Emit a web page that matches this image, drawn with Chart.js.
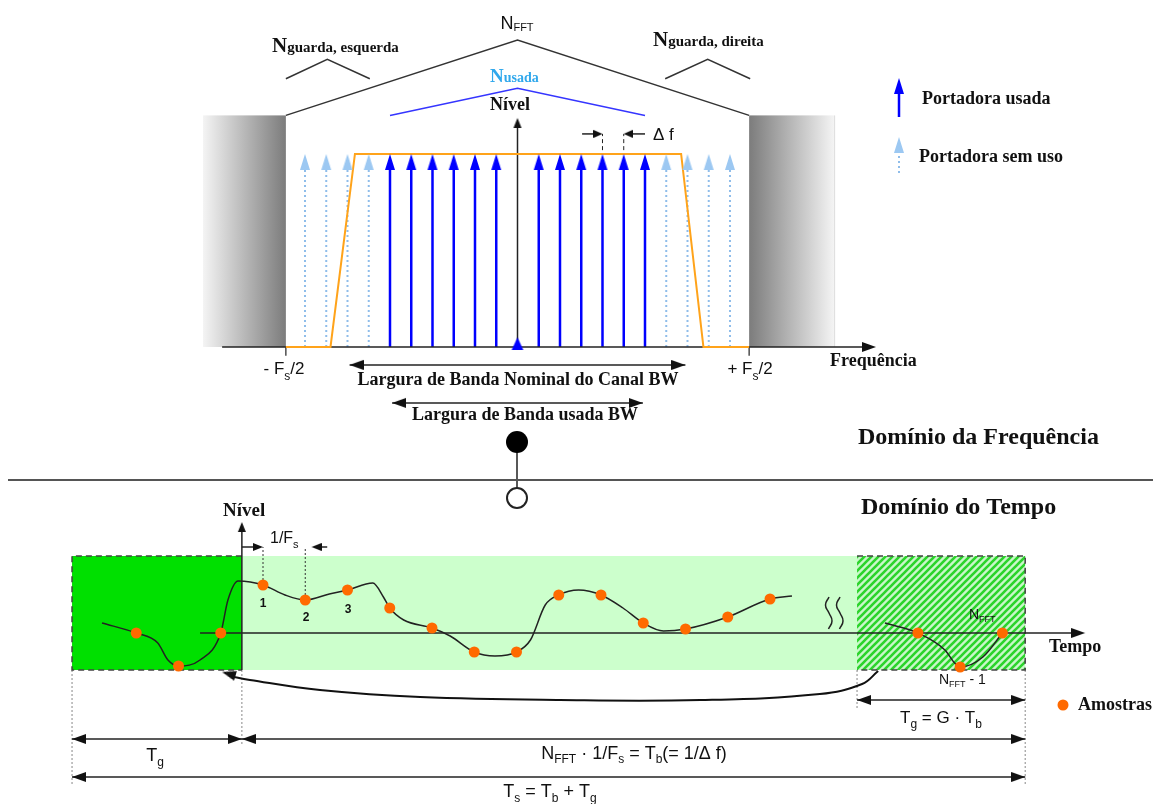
<!DOCTYPE html>
<html lang="pt">
<head>
<meta charset="utf-8">
<title>OFDM - Domínio da Frequência e do Tempo</title>
<script src="https://cdn.jsdelivr.net/npm/chart.js@4.4.0/dist/chart.umd.min.js"></script>
<style>
    html, body { margin: 0; padding: 0; background: #ffffff; }
    canvas { display: block; }
</style>
</head>
<body>
<canvas id="ofdmChart" width="1160" height="804"></canvas>
<script>
// ========================================
// DADOS - DOMÍNIO DA FREQUÊNCIA
// (índice de subportadora / nível normalizado)
// ========================================
const carrierIdx   = [-10, -9, -8, -7, -6, -5, -4, -3, -2, -1, 0, 1, 2, 3, 4, 5, 6, 7, 8, 9, 10];
const carrierUse   = ['livre', 'livre', 'livre', 'livre', 'usada', 'usada', 'usada', 'usada', 'usada', 'usada', 'dc',
                      'usada', 'usada', 'usada', 'usada', 'usada', 'usada', 'livre', 'livre', 'livre', 'livre'];
const carrierLevel = [1, 1, 1, 1, 1, 1, 1, 1, 1, 1, 0.05, 1, 1, 1, 1, 1, 1, 1, 1, 1, 1];

const maskIdx   = [-10.9, -8.8, -7.65, 7.7, 8.75, 10.9];
const maskLevel = [0, 0, 1, 1, 0, 0];

const fftRoofIdx     = [-10.9, 0, 10.9];
const fftRoofLevel   = [1.2, 1.59, 1.2];
const usedRoofIdx    = [-6, 0, 6];
const usedRoofLevel  = [1.2, 1.34, 1.2];
const guardLRoofIdx  = [-10.9, -8.95, -6.95];
const guardRRoofIdx  = [6.95, 8.95, 10.95];
const guardRoofLevel = [1.39, 1.49, 1.39];

const fsHalf       = 10.9;          // ± Fs/2
const guardBandL   = [-14.8, -10.9];
const guardBandR   = [10.9, 14.9];
const guardTop     = 1.2;
const bandNominal  = [-7.9, 7.9];
const bandUsed     = [-5.9, 5.9];
const deltaF       = [4, 5];

// ========================================
// DADOS - DOMÍNIO DO TEMPO
// (índice de amostra / nível)
// ========================================
const guardN     = [-2, -1, 0];
const guardLevel = [0, -3.3, 0];
const symN       = [1, 2, 3, 4, 5, 6, 7, 8, 9, 10, 11, 12, 13];
const symLevel   = [4.8, 3.3, 4.3, 2.5, 0.5, -1.9, -1.9, 3.8, 3.8, 1.0, 0.4, 1.6, 3.4];
const tailN      = [16.5, 17.5, 18.5];
const tailLevel  = [0, -3.4, 0];

const waveT = [-2.81, -2, -1.49, -1.25, -1, -0.49, 0, 0.17, 0.41, 1, 1.52, 2, 2.57, 3, 3.6, 3.85, 4, 4.33,
               5, 5.43, 6, 6.49, 7, 7.33, 7.68, 8, 8.47, 9, 9.52, 10, 10.48, 11, 12, 13, 13.52];
const waveL = [1.0, 0, -1.0, -2.7, -3.3, -2.7, 0, 3.3, 5.2, 4.8, 3.8, 3.3, 3.9, 4.3, 5.0, 3.6, 2.5, 1.3,
               0.5, -0.3, -1.9, -2.3, -1.9, -0.7, 2.8, 3.8, 4.3, 3.8, 2.5, 1.0, 0.2, 0.4, 1.6, 3.4, 3.7];
const tailWaveT = [15.72, 16.5, 17.14, 17.37, 17.5, 18.04, 18.5];
const tailWaveL = [1.0, 0, -1.7, -3.0, -3.4, -2.4, 0];

const arcT = [15.56, 15.18, 14.18, 11.35, 8.03, 4.72, 2.35, 0.69, 0.2];
const arcL = [-3.8, -5.1, -6.1, -6.7, -6.7, -6.4, -5.7, -4.7, -4.3];

const symbolEdges = [-3.52, 0.5, 15.06, 19.04];   // início Ts, início Tb, cópia Tg, fim Ts
const boxLevel    = [7.7, -3.7];

// ========================================
// ESTILO
// ========================================
const SERIF_B = s => `bold ${s}px "Liberation Serif", "DejaVu Serif", serif`;
const SANS    = s => `${s}px "Liberation Sans", Arial, sans-serif`;
const SANS_B  = s => `bold ${s}px "Liberation Sans", Arial, sans-serif`;

const AX_F  = ['xf', 'yf'];
const AX_T  = ['xt', 'yt'];
const AX_TP = ['xt', 'y'];
const AX_P  = ['x', 'y'];

function headImg(color, len, half) {
    const c = document.createElement('canvas');
    c.width = len * 2;
    c.height = half * 2 + 2;
    const g = c.getContext('2d');
    g.fillStyle = color;
    g.beginPath();
    g.moveTo(len, half + 1);
    g.lineTo(0, 1);
    g.lineTo(0, half * 2 + 1);
    g.closePath();
    g.fill();
    return c;
}

const HEAD_BLACK = headImg('#111111', 14, 5);
const HEAD_SMALL = headImg('#111111', 10, 4);
const HEAD_MINI  = headImg('#111111', 9, 4);
const HEAD_BLUE  = headImg('#0000ff', 16, 5);
const HEAD_LIGHT = headImg('#9cc8f2', 16, 5);
const HEAD_DC    = headImg('#0000ff', 13, 6);

function P(xs, ys) {
    return xs.map((x, i) => ({ x: x, y: ys[i] }));
}

function poly(data, axes, color, width, more) {
    return Object.assign({
        data: data, xAxisID: axes[0], yAxisID: axes[1],
        showLine: true, borderColor: color, borderWidth: width,
        pointRadius: 0, pointHoverRadius: 0, order: 3
    }, more || {});
}

function heads(data, axes, img, rot) {
    return {
        data: data, xAxisID: axes[0], yAxisID: axes[1],
        showLine: false, pointStyle: img, pointRadius: 1, pointHoverRadius: 1,
        pointRotation: rot, order: 1
    };
}

function dots(data, axes, fillColor, r, more) {
    return Object.assign({
        data: data, xAxisID: axes[0], yAxisID: axes[1], showLine: false,
        pointStyle: 'circle', pointRadius: r, pointHoverRadius: r,
        pointBackgroundColor: fillColor, pointBorderColor: fillColor, pointBorderWidth: 0, order: 1
    }, more || {});
}

// ========================================
// MONTAR DATASETS
// ========================================
const datasets = [];

// --- eixos da frequência
datasets.push(poly(P([-13.9, 16.5], [0, 0]), AX_F, '#222', 1.5));
datasets.push(heads([{ x: 16.87, y: 0 }], AX_F, HEAD_BLACK, 0));
datasets.push(poly(P([0, 0], [0, 1.14]), AX_F, '#222', 1.5));
datasets.push(heads([{ x: 0, y: 1.187 }], AX_F, HEAD_SMALL, -90));
datasets.push(poly([{ x: -fsHalf, y: 0 }, { x: -fsHalf, y: -0.045 }, { x: -fsHalf, y: null },
                    { x: fsHalf, y: 0 }, { x: fsHalf, y: -0.045 }], AX_F, '#222', 1.2));

// --- subportadoras
const usedPts = [], freePts = [], usedHeads = [], freeHeads = [], dcHeads = [];
carrierIdx.forEach((k, i) => {
    const lv = carrierLevel[i];
    if (carrierUse[i] === 'dc') {
        dcHeads.push({ x: k, y: lv });
        return;
    }
    const used = carrierUse[i] === 'usada';
    (used ? usedPts : freePts).push({ x: k, y: 0 }, { x: k, y: lv - 0.06 }, { x: k, y: null });
    (used ? usedHeads : freeHeads).push({ x: k, y: lv });
});
datasets.push(poly(usedPts, AX_F, '#0000ff', 2.5));
datasets.push(poly(freePts, AX_F, '#8fbdea', 2, { borderDash: [2, 3], order: 4 }));
datasets.push(heads(usedHeads, AX_F, HEAD_BLUE, -90));
datasets.push(heads(freeHeads, AX_F, HEAD_LIGHT, -90));
datasets.push(heads(dcHeads, AX_F, HEAD_DC, -90));

// --- máscara espectral
datasets.push(poly(P(maskIdx, maskLevel), AX_F, '#ffa31a', 2, { order: 2 }));

// --- telhados N_FFT / N_guarda / N_usada
datasets.push(poly(P(fftRoofIdx, fftRoofLevel), AX_F, '#333', 1.5));
datasets.push(poly(P(guardLRoofIdx, guardRoofLevel), AX_F, '#333', 1.5));
datasets.push(poly(P(guardRRoofIdx, guardRoofLevel), AX_F, '#333', 1.5));
datasets.push(poly(P(usedRoofIdx, usedRoofLevel), AX_F, '#3535ff', 1.5));

// --- Δf
datasets.push(poly([{ x: deltaF[0], y: 1.02 }, { x: deltaF[0], y: 1.104 }, { x: deltaF[0], y: null },
                    { x: deltaF[1], y: 1.02 }, { x: deltaF[1], y: 1.104 }], AX_F, '#222', 1, { borderDash: [4, 3] }));
datasets.push(poly(P([deltaF[0] - 0.96, deltaF[0] - 0.3], [1.104, 1.104]), AX_F, '#222', 1.5));
datasets.push(poly(P([deltaF[1] + 1, deltaF[1] + 0.3], [1.104, 1.104]), AX_F, '#222', 1.5));
datasets.push(heads([{ x: deltaF[0], y: 1.104 }, { x: deltaF[1], y: 1.104 }], AX_F, HEAD_MINI, [0, 180]));

// --- larguras de banda
datasets.push(poly(P(bandNominal, [-0.093, -0.093]), AX_F, '#222', 1.5));
datasets.push(heads(P(bandNominal, [-0.093, -0.093]), AX_F, HEAD_BLACK, [180, 0]));
datasets.push(poly(P(bandUsed, [-0.29, -0.29]), AX_F, '#222', 1.5));
datasets.push(heads(P(bandUsed, [-0.29, -0.29]), AX_F, HEAD_BLACK, [180, 0]));

// --- legenda (portadoras)
datasets.push(poly(P([899, 899], [117, 88]), AX_P, '#0000ff', 2.5));
datasets.push(heads([{ x: 899, y: 78 }], AX_P, HEAD_BLUE, -90));
datasets.push(poly(P([899, 899], [173, 150]), AX_P, '#8fbdea', 2, { borderDash: [2, 3] }));
datasets.push(heads([{ x: 899, y: 137 }], AX_P, HEAD_LIGHT, -90));

// --- divisória e IFFT/FFT
datasets.push(poly(P([8, 1153], [480, 480]), AX_P, '#555', 2));
datasets.push(poly(P([517, 517], [452, 488]), AX_P, '#222', 1.5));
datasets.push(dots([{ x: 517, y: 442 }], AX_P, '#000', 11));
datasets.push(dots([{ x: 517, y: 498 }], AX_P, '#fff', 10, { pointBorderColor: '#222', pointBorderWidth: 2 }));

// --- eixos do tempo
datasets.push(poly(P([-0.49, 20.2], [0, 0]), AX_T, '#222', 1.5));
datasets.push(heads([{ x: 20.46, y: 0 }], AX_T, HEAD_BLACK, 0));
datasets.push(poly(P([symbolEdges[1], symbolEdges[1]], [boxLevel[1], 10.5]), AX_T, '#222', 1.5));
datasets.push(heads([{ x: symbolEdges[1], y: 11.1 }], AX_T, HEAD_SMALL, -90));

// --- sinal e amostras
datasets.push(poly(P(waveT, waveL), AX_T, '#222', 1.5, { cubicInterpolationMode: 'monotone' }));
datasets.push(poly(P(tailWaveT, tailWaveL), AX_T, '#222', 1.5, { cubicInterpolationMode: 'monotone' }));
datasets.push(dots(P(guardN, guardLevel), AX_T, '#ff6a00', 5.5));
datasets.push(dots(P(symN, symLevel), AX_T, '#ff6a00', 5.5));
datasets.push(dots(P(tailN, tailLevel), AX_T, '#ff6a00', 5.5));

// --- 1/Fs
datasets.push(poly([{ x: symN[0], y: 5.3 }, { x: symN[0], y: 8.6 }, { x: symN[0], y: null },
                    { x: symN[1], y: 3.8 }, { x: symN[1], y: 8.6 }], AX_T, '#333', 1, { borderDash: [2, 2] }));
datasets.push(poly(P([symbolEdges[1], 0.8], [8.6, 8.6]), AX_T, '#222', 1.5));
datasets.push(poly(P([2.52, 2.35], [8.6, 8.6]), AX_T, '#222', 1.5));
datasets.push(heads([{ x: symN[0], y: 8.6 }, { x: 2.15, y: 8.6 }], AX_T, HEAD_SMALL, [0, 180]));

// --- bordas tracejadas (prefixo cíclico e cópia)
datasets.push(poly(P([symbolEdges[1], symbolEdges[0], symbolEdges[0], symbolEdges[1]],
                     [boxLevel[0], boxLevel[0], boxLevel[1], boxLevel[1]]), AX_T, '#444', 1.5, { borderDash: [6, 4] }));
datasets.push(poly(P([symbolEdges[2], symbolEdges[3], symbolEdges[3], symbolEdges[2]],
                     [boxLevel[0], boxLevel[0], boxLevel[1], boxLevel[1]]), AX_T, '#444', 1.5, { borderDash: [6, 4] }));

// --- quebra do eixo (≈)
datasets.push(poly(P([829, 825.5, 829, 832, 828.5], [597, 605, 613, 621, 629]), AX_P, '#222', 1.5, { tension: 0.5 }));
datasets.push(poly(P([840, 836.5, 840, 843, 839.5], [597, 605, 613, 621, 629]), AX_P, '#222', 1.5, { tension: 0.5 }));

// --- seta curva (cópia do final para o prefixo)
datasets.push(poly(P(arcT, arcL), AX_T, '#111', 2, { tension: 0.4 }));
datasets.push(heads([{ x: 0.03, y: -3.9 }], AX_T, HEAD_BLACK, 196));

// --- cotas
const dimBottom = [785, 745, 710, 785];
const dimPts = [];
symbolEdges.forEach((e, i) => dimPts.push({ x: e, y: 670 }, { x: e, y: dimBottom[i] }, { x: e, y: null }));
datasets.push(poly(dimPts, AX_TP, '#888', 1, { borderDash: [2, 2], order: 4 }));

const dims = [
    [symbolEdges[0], symbolEdges[1], 739],   // Tg
    [symbolEdges[1], symbolEdges[3], 739],   // Tb
    [symbolEdges[2], symbolEdges[3], 700],   // Tg = G·Tb
    [symbolEdges[0], symbolEdges[3], 777]    // Ts
];
dims.forEach(d => {
    datasets.push(poly(P([d[0], d[1]], [d[2], d[2]]), AX_TP, '#222', 1.5));
    datasets.push(heads(P([d[0], d[1]], [d[2], d[2]]), AX_TP, HEAD_BLACK, [180, 0]));
});

// --- legenda amostras
datasets.push(dots([{ x: 1063, y: 705 }], AX_P, '#ff6a00', 5.5));

// ========================================
// TEXTOS
// ========================================
const textBlocks = [
    { x: 517, y: 29, align: 'center', parts: [['N', SANS(18)], ['FFT', SANS(11), 2]] },
    { x: 272, y: 52, parts: [['N', SERIF_B(21)], ['guarda, esquerda', SERIF_B(15)]] },
    { x: 653, y: 46, parts: [['N', SERIF_B(21)], ['guarda, direita', SERIF_B(15)]] },
    { x: 490, y: 82, color: '#30a8ec', parts: [['N', SERIF_B(19)], ['usada', SERIF_B(14)]] },
    { x: 490, y: 110, parts: [['Nível', SERIF_B(18)]] },
    { x: 653, y: 140, parts: [['Δ f', SANS(17)]] },
    { x: 284, y: 374, align: 'center', parts: [['- F', SANS(17)], ['s', SANS(12), 6], ['/2', SANS(17)]] },
    { x: 750, y: 374, align: 'center', parts: [['+ F', SANS(17)], ['s', SANS(12), 6], ['/2', SANS(17)]] },
    { x: 830, y: 366, parts: [['Frequência', SERIF_B(18)]] },
    { x: 922, y: 104, parts: [['Portadora usada', SERIF_B(18)]] },
    { x: 919, y: 162, parts: [['Portadora sem uso', SERIF_B(18)]] },
    { x: 518, y: 385, align: 'center', parts: [['Largura de Banda Nominal do Canal BW', SERIF_B(18)]] },
    { x: 525, y: 420, align: 'center', parts: [['Largura de Banda usada BW', SERIF_B(18)]] },
    { x: 858, y: 444, parts: [['Domínio da Frequência', SERIF_B(24)]] },
    { x: 861, y: 514, parts: [['Domínio do Tempo', SERIF_B(24)]] },
    { x: 223, y: 516, parts: [['Nível', SERIF_B(19)]] },
    { x: 270, y: 543, parts: [['1/F', SANS(16)], ['s', SANS(11), 5]] },
    { x: 263, y: 607, align: 'center', parts: [['1', SANS_B(12)]] },
    { x: 306, y: 621, align: 'center', parts: [['2', SANS_B(12)]] },
    { x: 348, y: 613, align: 'center', parts: [['3', SANS_B(12)]] },
    { x: 1049, y: 652, parts: [['Tempo', SERIF_B(18)]] },
    { x: 969, y: 619, parts: [['N', SANS(14)], ['FFT', SANS(9), 3]] },
    { x: 939, y: 684, parts: [['N', SANS(14)], ['FFT', SANS(9), 3], [' - 1', SANS(14)]] },
    { x: 1078, y: 710, parts: [['Amostras', SERIF_B(18)]] },
    { x: 941, y: 723, align: 'center', parts: [['T', SANS(17)], ['g', SANS(12), 5], [' = G · T', SANS(17)], ['b', SANS(12), 5]] },
    { x: 155, y: 761, align: 'center', parts: [['T', SANS(18)], ['g', SANS(12), 5]] },
    { x: 634, y: 759, align: 'center', parts: [['N', SANS(18)], ['FFT', SANS(12), 4], [' · 1/F', SANS(18)], ['s', SANS(12), 4],
                                                [' = T', SANS(18)], ['b', SANS(12), 4], ['(= 1/Δ f)', SANS(18)]] },
    { x: 550, y: 797, align: 'center', parts: [['T', SANS(18)], ['s', SANS(12), 5], [' = T', SANS(18)], ['b', SANS(12), 5],
                                                [' + T', SANS(18)], ['g', SANS(12), 5]] }
];

// ========================================
// PLUGINS: FUNDOS E TEXTOS
// ========================================
function hatchPattern(ctx) {
    const p = 7;
    const c = document.createElement('canvas');
    c.width = p;
    c.height = p;
    const g = c.getContext('2d');
    g.fillStyle = '#c9f7c9';
    g.fillRect(0, 0, p, p);
    g.strokeStyle = '#2bd42b';
    g.lineWidth = 2.6;
    g.beginPath();
    g.moveTo(0, p); g.lineTo(p, 0);
    g.moveTo(-1, 1); g.lineTo(1, -1);
    g.moveTo(p - 1, p + 1); g.lineTo(p + 1, p - 1);
    g.stroke();
    return ctx.createPattern(c, 'repeat');
}

const backdrop = {
    id: 'backdrop',
    beforeDatasetsDraw(chart) {
        const ctx = chart.ctx;
        const { xf, yf, xt, yt } = chart.scales;
        ctx.save();

        // faixas cinzas de guarda
        const top = yf.getPixelForValue(guardTop);
        const bot = yf.getPixelForValue(0);
        let x0 = xf.getPixelForValue(guardBandL[0]);
        let x1 = xf.getPixelForValue(guardBandL[1]);
        let grad = ctx.createLinearGradient(x0, 0, x1, 0);
        grad.addColorStop(0, '#f4f4f4');
        grad.addColorStop(1, '#7c7c7c');
        ctx.fillStyle = grad;
        ctx.fillRect(x0, top, x1 - x0, bot - top);

        x0 = xf.getPixelForValue(guardBandR[0]);
        x1 = xf.getPixelForValue(guardBandR[1]);
        grad = ctx.createLinearGradient(x0, 0, x1, 0);
        grad.addColorStop(0, '#7c7c7c');
        grad.addColorStop(1, '#f4f4f4');
        ctx.fillStyle = grad;
        ctx.fillRect(x0, top, x1 - x0, bot - top);
        ctx.fillStyle = '#dddddd';
        ctx.fillRect(x1, top, 1, bot - top);

        // caixas do símbolo OFDM
        const bTop = yt.getPixelForValue(boxLevel[0]);
        const bBot = yt.getPixelForValue(boxLevel[1]);
        const e = symbolEdges.map(v => xt.getPixelForValue(v));
        ctx.fillStyle = '#00e000';
        ctx.fillRect(e[0], bTop, e[1] - e[0], bBot - bTop);
        ctx.fillStyle = '#ccffcc';
        ctx.fillRect(e[1], bTop, e[2] - e[1], bBot - bTop);
        ctx.fillStyle = hatchPattern(ctx);
        ctx.fillRect(e[2], bTop, e[3] - e[2], bBot - bTop);

        ctx.restore();
    }
};

const textLayer = {
    id: 'textLayer',
    afterDatasetsDraw(chart) {
        const ctx = chart.ctx;
        const sx = chart.scales.x, sy = chart.scales.y;
        ctx.save();
        ctx.textBaseline = 'alphabetic';
        ctx.textAlign = 'left';
        textBlocks.forEach(b => {
            let w = 0;
            b.parts.forEach(p => { ctx.font = p[1]; w += ctx.measureText(p[0]).width; });
            let x = sx.getPixelForValue(b.x);
            if (b.align === 'center') x -= w / 2;
            const y = sy.getPixelForValue(b.y);
            ctx.fillStyle = b.color || '#111111';
            b.parts.forEach(p => {
                ctx.font = p[1];
                ctx.fillText(p[0], x, y + (p[2] || 0));
                x += ctx.measureText(p[0]).width;
            });
        });
        ctx.restore();
    }
};

// ========================================
// GRÁFICO
// ========================================
const hidden = { display: false, bounds: 'data' };

new Chart(document.getElementById('ofdmChart'), {
    type: 'scatter',
    data: { datasets: datasets },
    options: {
        responsive: false,
        animation: false,
        events: [],
        layout: { padding: 0, autoPadding: false },
        plugins: {
            legend: { display: false },
            tooltip: { enabled: false }
        },
        scales: {
            x:  Object.assign({ type: 'linear', min: 0, max: 1160 }, hidden),
            y:  Object.assign({ type: 'linear', min: 0, max: 804, reverse: true }, hidden),
            xf: Object.assign({ type: 'linear', axis: 'x', min: -24.3529, max: 30.2353 }, hidden),
            yf: Object.assign({ type: 'linear', axis: 'y', min: -2.3679, max: 1.7979 }, hidden),
            xt: Object.assign({ type: 'linear', axis: 'x', min: -5.2249, max: 22.2308 }, hidden),
            yt: Object.assign({ type: 'linear', axis: 'y', min: -17.1, max: 63.3 }, hidden)
        }
    },
    plugins: [backdrop, textLayer]
});
</script>
</body>
</html>
